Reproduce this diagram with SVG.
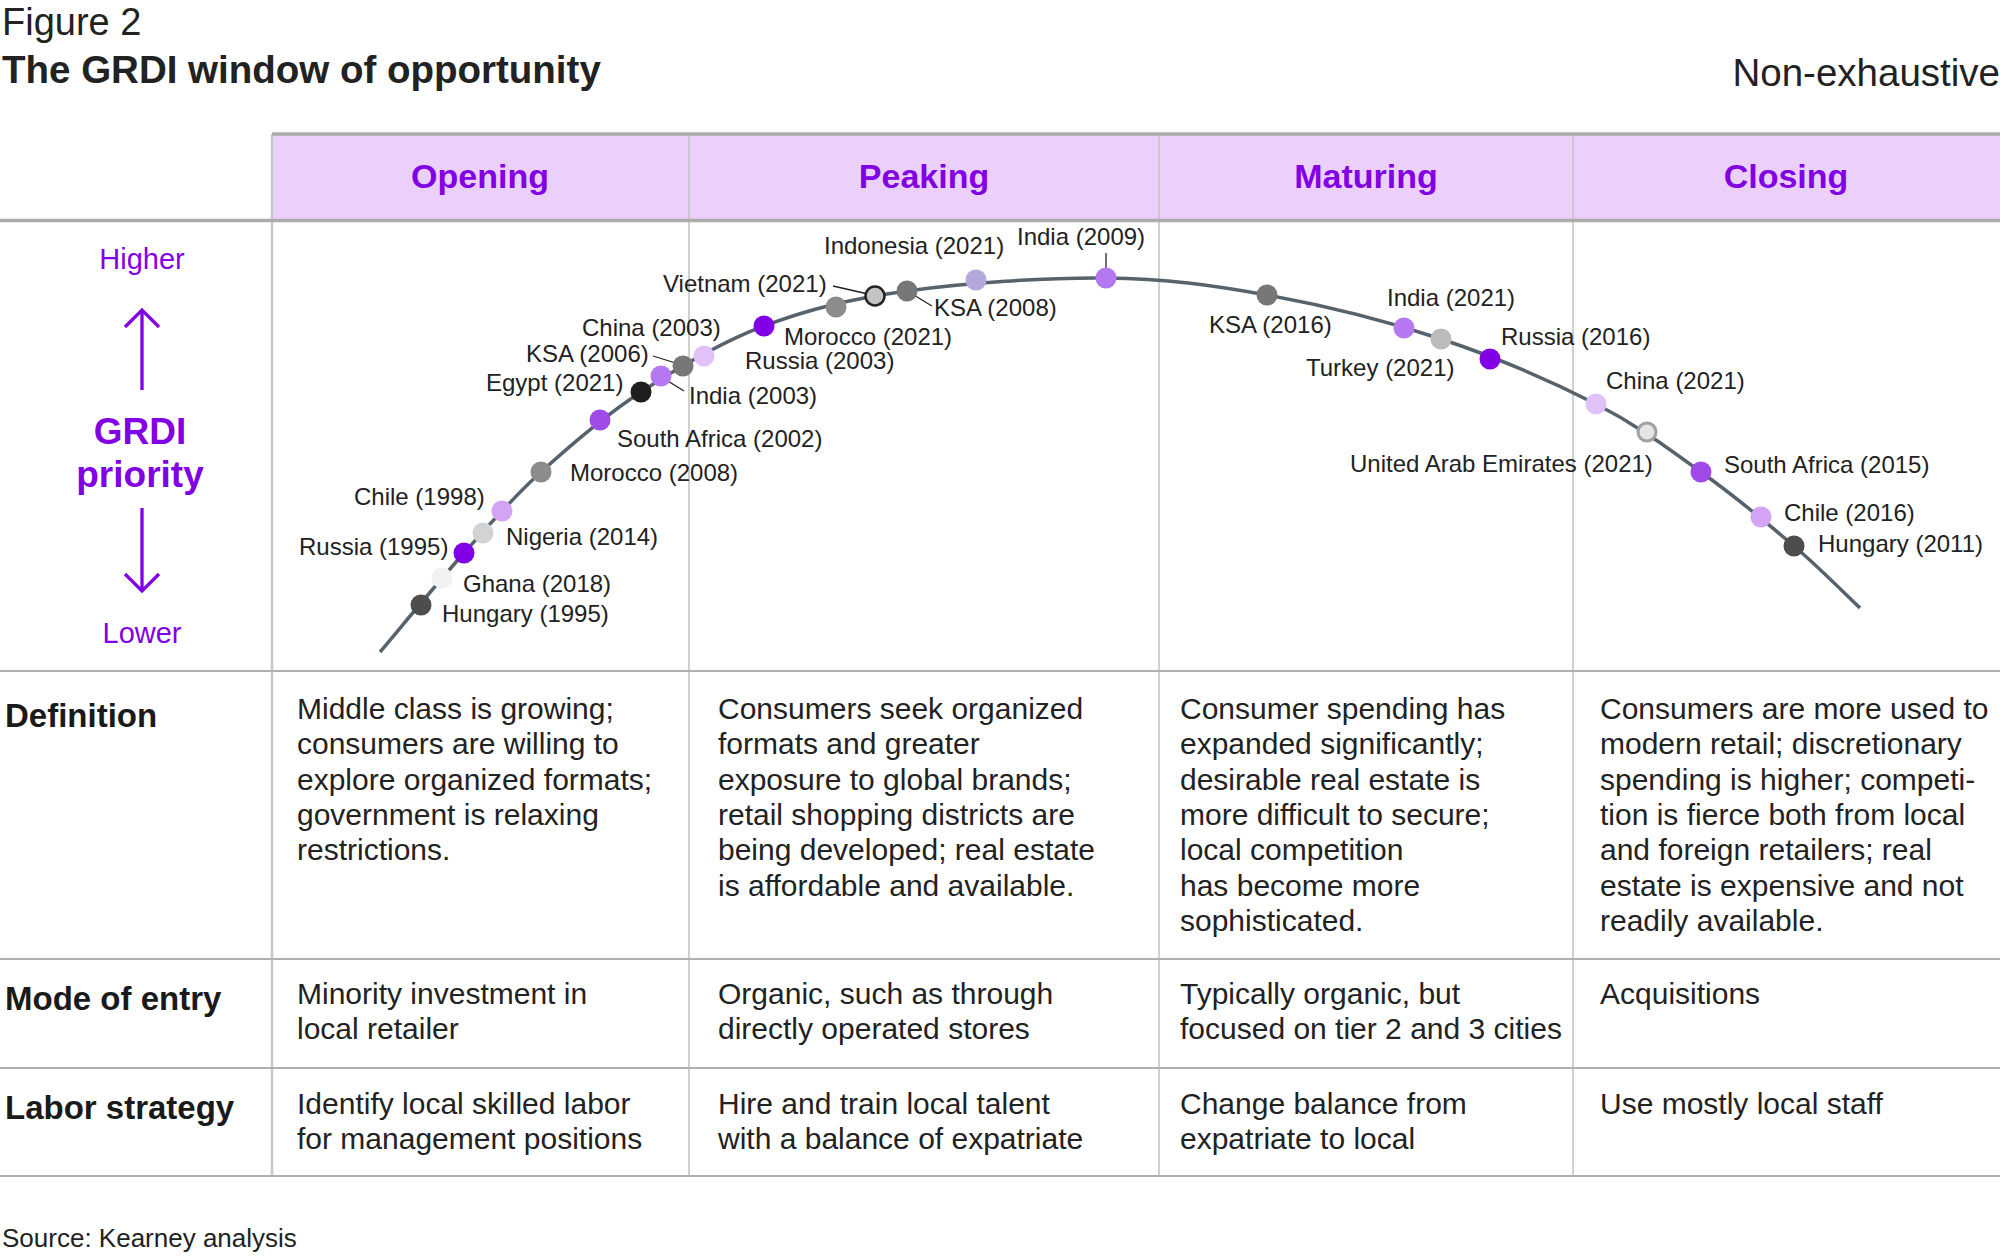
<svg xmlns="http://www.w3.org/2000/svg" width="2000" height="1257" viewBox="0 0 2000 1257">
<style>
text { font-family: "Liberation Sans", Arial, Helvetica, sans-serif; fill: #222; }
.lbl { font-size: 24px; }
.body { font-size: 30px; }
.rowh { font-size: 33px; font-weight: bold; fill: #1a1a1a; }
.colh { font-size: 34px; font-weight: bold; fill: #8200e4; text-anchor: middle; }
.pur { fill: #8200e4; }
.vsep { stroke: #c4c4c4; stroke-width: 1.6; fill: none; }
.hline { stroke: #b0b0b0; stroke-width: 2; fill: none; }
.thick { stroke: #ababab; stroke-width: 3.5; fill: none; }
.lead { stroke: #222; stroke-width: 1.3; fill: none; }
.arrow { stroke: #8200e4; stroke-width: 3.3; fill: none; }
.curve { stroke: #56626c; stroke-width: 3.5; fill: none; }
</style>
<rect x="0" y="0" width="2000" height="1257" fill="#ffffff"/>

<g id="titles">
  <text x="2" y="35" font-size="38" fill="#2a2a2a">Figure 2</text>
  <text x="2" y="83" font-size="38.5" font-weight="bold" fill="#1a1a1a">The GRDI window of opportunity</text>
  <text x="2000" y="86" font-size="38.5" text-anchor="end" fill="#2a2a2a">Non-exhaustive</text>
</g>

<g id="table-grid">
  <rect x="272" y="134" width="1728" height="86" fill="#ebd0fc"/>
  <line class="vsep" x1="689" y1="135" x2="689" y2="1176"/>
  <line class="vsep" x1="1159" y1="135" x2="1159" y2="1176"/>
  <line class="vsep" x1="1573" y1="135" x2="1573" y2="1176"/>
  <line x1="272" y1="134" x2="272" y2="1176" stroke="#c8c8c8" stroke-width="2.5"/>
  <line class="thick" x1="272" y1="134" x2="2000" y2="134"/>
  <line class="thick" x1="0" y1="220.5" x2="2000" y2="220.5"/>
  <line class="hline" x1="0" y1="671" x2="2000" y2="671"/>
  <line class="hline" x1="0" y1="959" x2="2000" y2="959"/>
  <line class="hline" x1="0" y1="1068" x2="2000" y2="1068"/>
  <line class="hline" x1="0" y1="1176" x2="2000" y2="1176"/>
</g>

<g id="column-headers">
  <text class="colh" x="480" y="188">Opening</text>
  <text class="colh" x="924" y="188">Peaking</text>
  <text class="colh" x="1366" y="188">Maturing</text>
  <text class="colh" x="1786" y="188">Closing</text>
</g>

<g id="axis">
  <text class="pur" x="142" y="269" font-size="29" text-anchor="middle">Higher</text>
  <line class="arrow" x1="142" y1="310" x2="142" y2="390"/>
  <polyline class="arrow" points="125,327 142,310 159,327"/>
  <text class="pur" x="140" y="444" font-size="37" font-weight="bold" text-anchor="middle">GRDI</text>
  <text class="pur" x="140" y="487" font-size="37" font-weight="bold" text-anchor="middle">priority</text>
  <line class="arrow" x1="142" y1="508" x2="142" y2="591"/>
  <polyline class="arrow" points="125,574 142,591 159,574"/>
  <text class="pur" x="142" y="643" font-size="29" text-anchor="middle">Lower</text>
</g>

<g id="connectors">
  <path class="curve" d="M380,652 C394,635.5 437.2,583 464,553 C490.8,523 511.5,498.8 541,472 C570.5,445.2 603.8,416.3 641,392 C678.2,367.7 719.7,342.8 764,326 C808.3,309.2 850,299 907,291 C964,283 1046,277.3 1106,278 C1166,278.7 1211.2,284.8 1267,295 C1322.8,305.2 1386.2,320.8 1441,339 C1495.8,357.2 1552.7,381.8 1596,404 C1639.3,426.2 1668,448.3 1701,472 C1734,495.7 1767.5,523.3 1794,546 C1820.5,568.7 1849,597.7 1860,608"/>
  <line class="lead" x1="653" y1="356" x2="682" y2="365"/>
  <line class="lead" x1="663" y1="378" x2="684" y2="391"/>
  <line class="lead" x1="833" y1="286" x2="868" y2="294"/>
  <line class="lead" x1="907" y1="291" x2="932" y2="306"/>
  <line class="lead" x1="1106" y1="253" x2="1106" y2="277"/>
</g>

<g id="n-hungary-1995"><circle cx="421" cy="605" r="10.5" fill="#4d4d4d"/><text class="lbl" x="442" y="622">Hungary (1995)</text></g>
<g id="n-ghana-2018"><circle cx="442" cy="578" r="10.5" fill="#f2f2f2"/><text class="lbl" x="463" y="592">Ghana (2018)</text></g>
<g id="n-russia-1995"><circle cx="464" cy="553" r="10.5" fill="#8200e6"/><text class="lbl" x="299" y="555">Russia (1995)</text></g>
<g id="n-nigeria-2014"><circle cx="483" cy="533" r="10.5" fill="#d3d3d3"/><text class="lbl" x="506" y="545">Nigeria (2014)</text></g>
<g id="n-chile-1998"><circle cx="502" cy="511" r="10.5" fill="#d3a3f5"/><text class="lbl" x="354" y="505">Chile (1998)</text></g>
<g id="n-morocco-2008"><circle cx="541" cy="472" r="10.5" fill="#8c8c8c"/><text class="lbl" x="570" y="481">Morocco (2008)</text></g>
<g id="n-southafrica-2002"><circle cx="600" cy="420" r="10.5" fill="#a04ae8"/><text class="lbl" x="617" y="447">South Africa (2002)</text></g>
<g id="n-egypt-2021"><circle cx="641" cy="392" r="10.5" fill="#1e1e1e"/><text class="lbl" x="486" y="391">Egypt (2021)</text></g>
<g id="n-india-2003"><circle cx="661" cy="376" r="10.5" fill="#b678f0"/><text class="lbl" x="689" y="404">India (2003)</text></g>
<g id="n-ksa-2006"><circle cx="683" cy="366" r="10.5" fill="#777777"/><text class="lbl" x="526" y="362">KSA (2006)</text></g>
<g id="n-china-2003"><circle cx="704" cy="356" r="10.5" fill="#e0c2f9"/><text class="lbl" x="582" y="336">China (2003)</text></g>
<g id="n-russia-2003"><circle cx="764" cy="326" r="10.5" fill="#8200e6"/><text class="lbl" x="745" y="369">Russia (2003)</text></g>
<g id="n-morocco-2021"><circle cx="836" cy="307" r="10.5" fill="#8c8c8c"/><text class="lbl" x="784" y="345">Morocco (2021)</text></g>
<g id="n-vietnam-2021"><circle cx="875" cy="296" r="9.5" fill="#c4c4c4" stroke="#222" stroke-width="2.5"/><text class="lbl" x="663" y="292">Vietnam (2021)</text></g>
<g id="n-ksa-2008"><circle cx="907" cy="291" r="10.5" fill="#777777"/><text class="lbl" x="934" y="316">KSA (2008)</text></g>
<g id="n-indonesia-2021"><circle cx="976" cy="280" r="10.5" fill="#b3a8d9"/><text class="lbl" x="824" y="254">Indonesia (2021)</text></g>
<g id="n-india-2009"><circle cx="1106" cy="278" r="10.5" fill="#b678f0"/><text class="lbl" x="1017" y="245">India (2009)</text></g>
<g id="n-ksa-2016"><circle cx="1267" cy="295" r="10.5" fill="#777777"/><text class="lbl" x="1209" y="333">KSA (2016)</text></g>
<g id="n-india-2021"><circle cx="1404" cy="328" r="10.5" fill="#b678f0"/><text class="lbl" x="1387" y="306">India (2021)</text></g>
<g id="n-turkey-2021"><circle cx="1441" cy="339" r="10.5" fill="#bbbbbb"/><text class="lbl" x="1306" y="376">Turkey (2021)</text></g>
<g id="n-russia-2016"><circle cx="1490" cy="359" r="10.5" fill="#8200e6"/><text class="lbl" x="1501" y="345">Russia (2016)</text></g>
<g id="n-china-2021"><circle cx="1596" cy="404" r="10.5" fill="#e0c2f9"/><text class="lbl" x="1606" y="389">China (2021)</text></g>
<g id="n-uae-2021"><circle cx="1647" cy="432" r="9" fill="#e4e4e4" stroke="#a0a0a0" stroke-width="3"/><text class="lbl" x="1350" y="472">United Arab Emirates (2021)</text></g>
<g id="n-southafrica-2015"><circle cx="1701" cy="472" r="10.5" fill="#a04ae8"/><text class="lbl" x="1724" y="473">South Africa (2015)</text></g>
<g id="n-chile-2016"><circle cx="1761" cy="517" r="10.5" fill="#d3a3f5"/><text class="lbl" x="1784" y="521">Chile (2016)</text></g>
<g id="n-hungary-2011"><circle cx="1794" cy="546" r="10.5" fill="#4d4d4d"/><text class="lbl" x="1818" y="552">Hungary (2011)</text></g>

<g id="row-labels">
  <text class="rowh" x="5" y="727">Definition</text>
  <text class="rowh" x="5" y="1010">Mode of entry</text>
  <text class="rowh" x="5" y="1119">Labor strategy</text>
</g>

<g id="definition-row">
  <text class="body">
    <tspan x="297" y="719">Middle class is growing;</tspan>
    <tspan x="297" y="754.3">consumers are willing to</tspan>
    <tspan x="297" y="789.6">explore organized formats;</tspan>
    <tspan x="297" y="825">government is relaxing</tspan>
    <tspan x="297" y="860.3">restrictions.</tspan>
  </text>
  <text class="body">
    <tspan x="718" y="719">Consumers seek organized</tspan>
    <tspan x="718" y="754.3">formats and greater</tspan>
    <tspan x="718" y="789.6">exposure to global brands;</tspan>
    <tspan x="718" y="825">retail shopping districts are</tspan>
    <tspan x="718" y="860.3">being developed; real estate</tspan>
    <tspan x="718" y="895.6">is affordable and available.</tspan>
  </text>
  <text class="body">
    <tspan x="1180" y="719">Consumer spending has</tspan>
    <tspan x="1180" y="754.3">expanded significantly;</tspan>
    <tspan x="1180" y="789.6">desirable real estate is</tspan>
    <tspan x="1180" y="825">more difficult to secure;</tspan>
    <tspan x="1180" y="860.3">local competition</tspan>
    <tspan x="1180" y="895.6">has become more</tspan>
    <tspan x="1180" y="931">sophisticated.</tspan>
  </text>
  <text class="body">
    <tspan x="1600" y="719">Consumers are more used to</tspan>
    <tspan x="1600" y="754.3">modern retail; discretionary</tspan>
    <tspan x="1600" y="789.6">spending is higher; competi-</tspan>
    <tspan x="1600" y="825">tion is fierce both from local</tspan>
    <tspan x="1600" y="860.3">and foreign retailers; real</tspan>
    <tspan x="1600" y="895.6">estate is expensive and not</tspan>
    <tspan x="1600" y="931">readily available.</tspan>
  </text>
</g>

<g id="mode-row">
  <text class="body"><tspan x="297" y="1004">Minority investment in</tspan><tspan x="297" y="1039.3">local retailer</tspan></text>
  <text class="body"><tspan x="718" y="1004">Organic, such as through</tspan><tspan x="718" y="1039.3">directly operated stores</tspan></text>
  <text class="body"><tspan x="1180" y="1004">Typically organic, but</tspan><tspan x="1180" y="1039.3">focused on tier 2 and 3 cities</tspan></text>
  <text class="body"><tspan x="1600" y="1004">Acquisitions</tspan></text>
</g>

<g id="labor-row">
  <text class="body"><tspan x="297" y="1114">Identify local skilled labor</tspan><tspan x="297" y="1149.3">for management positions</tspan></text>
  <text class="body"><tspan x="718" y="1114">Hire and train local talent</tspan><tspan x="718" y="1149.3">with a balance of expatriate</tspan></text>
  <text class="body"><tspan x="1180" y="1114">Change balance from</tspan><tspan x="1180" y="1149.3">expatriate to local</tspan></text>
  <text class="body"><tspan x="1600" y="1114">Use mostly local staff</tspan></text>
</g>

<g id="source">
  <text x="2" y="1247" font-size="26" fill="#2a2a2a">Source: Kearney analysis</text>
</g>
</svg>
